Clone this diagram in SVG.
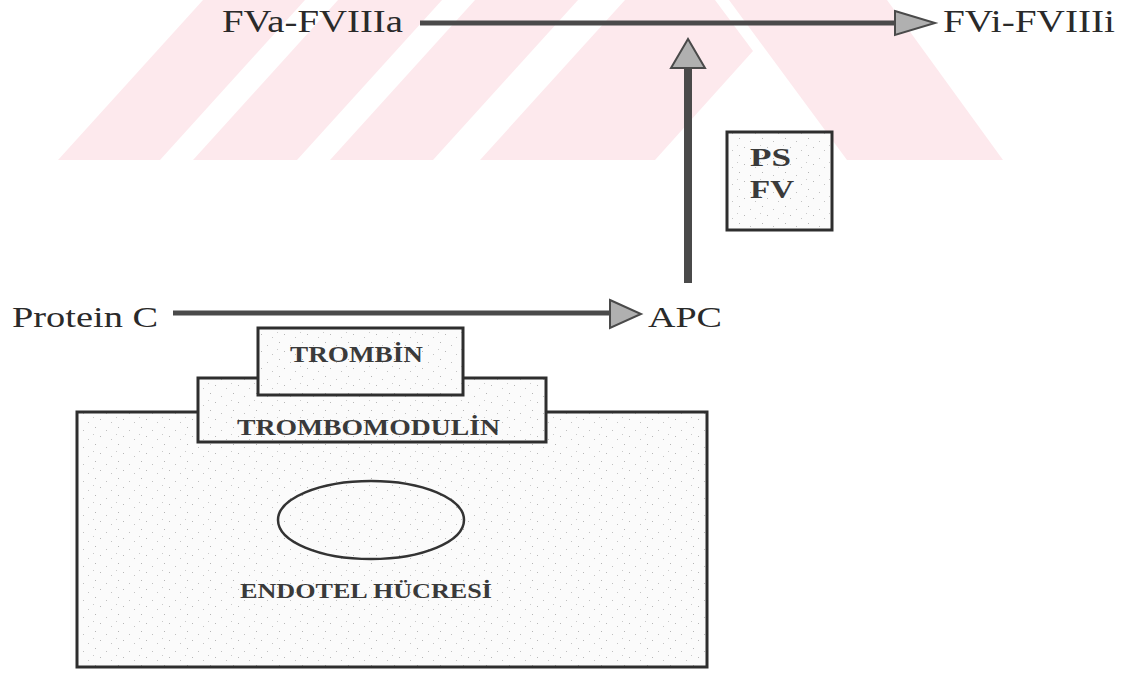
<svg xmlns="http://www.w3.org/2000/svg" width="1125" height="677" viewBox="0 0 1125 677">
<style>
.lbl{font-family:"Liberation Serif","Times New Roman",serif;fill:#2a2a2a}
.box{font-family:"Liberation Serif","Times New Roman",serif;font-weight:bold;fill:#3a3a3a}
.frame{fill:url(#stip);stroke:#2e2e2e;stroke-width:3}
.conn{stroke:#4a4a4a;fill:none}
.head{fill:#b0b0b0;stroke:#4a4a4a;stroke-width:2}
.wm{fill:#fde9ed}
</style>
<defs>
<pattern id="stip" width="23" height="17" patternUnits="userSpaceOnUse">
<rect width="23" height="17" fill="#fbfbfb"/>
<rect x="3" y="2" width="1" height="1" fill="#b5b5b5"/>
<rect x="14" y="5" width="1" height="1" fill="#c0c0c0"/>
<rect x="8" y="11" width="1" height="1" fill="#b8b8b8"/>
<rect x="19" y="14" width="1" height="1" fill="#c4c4c4"/>
<rect x="1" y="9" width="1" height="1" fill="#cacaca"/>
</pattern>
</defs>

<g id="watermark">
<polygon class="wm" points="58,160 203,0 305,0 160,160"/>
<polygon class="wm" points="193,160 338,0 442,0 297,160"/>
<polygon class="wm" points="330,160 475,0 578,0 433,160"/>
<polygon class="wm" points="480,160 625,0 715,0 753,51 655,160"/>
<polygon class="wm" points="729,0 887,0 1003,160 847,160"/>
</g>

<g id="endotel">
<rect class="frame" x="77" y="412" width="630" height="255"/>
<ellipse cx="371" cy="520" rx="93" ry="39" fill="none" stroke="#333" stroke-width="2.5"/>
<text class="box" x="240" y="598" font-size="21" textLength="252" lengthAdjust="spacingAndGlyphs">ENDOTEL HÜCRESİ</text>
</g>

<g id="trombomodulin">
<rect class="frame" x="198" y="378" width="348" height="64"/>
<text class="box" x="237" y="435" font-size="23" textLength="263" lengthAdjust="spacingAndGlyphs">TROMBOMODULİN</text>
</g>

<g id="trombin">
<rect class="frame" x="258" y="328" width="205" height="67"/>
<text class="box" x="290" y="362" font-size="23" textLength="133" lengthAdjust="spacingAndGlyphs">TROMBİN</text>
</g>

<g id="psfv">
<rect class="frame" x="727" y="132" width="105" height="98"/>
<text class="box" x="750" y="166" font-size="25" textLength="41" lengthAdjust="spacingAndGlyphs">PS</text>
<text class="box" x="750" y="198" font-size="25" textLength="44" lengthAdjust="spacingAndGlyphs">FV</text>
</g>

<g id="fva">
<text class="lbl" x="222" y="32" font-size="31" textLength="181" lengthAdjust="spacingAndGlyphs">FVa-FVIIIa</text>
</g>
<g id="fvi">
<text class="lbl" x="943" y="32" font-size="31" textLength="172" lengthAdjust="spacingAndGlyphs">FVi-FVIIIi</text>
</g>
<g id="proteinc">
<text class="lbl" x="12" y="327" font-size="29" textLength="146" lengthAdjust="spacingAndGlyphs">Protein C</text>
</g>
<g id="apc">
<text class="lbl" x="648" y="327" font-size="29" textLength="74" lengthAdjust="spacingAndGlyphs">APC</text>
</g>

<g id="connectors">
<line class="conn" x1="420" y1="23" x2="899" y2="23" stroke-width="5"/>
<polygon class="head" points="895,11 935,23 895,35"/>
<line class="conn" x1="173" y1="313" x2="612" y2="313" stroke-width="5"/>
<polygon class="head" points="610,300 641,314 610,328"/>
<line class="conn" x1="688" y1="283" x2="688" y2="66" stroke-width="8"/>
<polygon class="head" points="671,68 688,39 705,68"/>
</g>
</svg>
